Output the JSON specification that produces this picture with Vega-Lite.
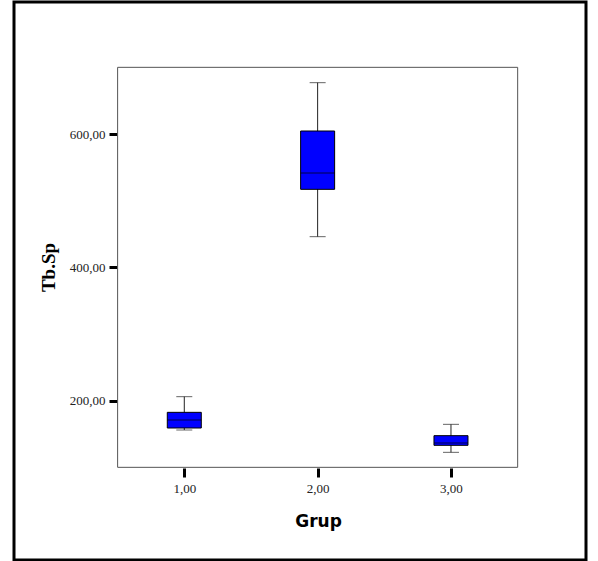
{
  "$schema": "https://vega.github.io/schema/vega-lite/v6.json",
  "width": 572,
  "height": 558,
  "autosize": "none",
  "padding": {"left": 14, "top": 2, "right": 12, "bottom": 1},
  "background": "white",
  "config": {"view": {"stroke": "black", "strokeWidth": 3}},
  "data": {
    "values": [
      {"Grup": 1, "lower": 156, "q1": 159, "median": 171, "q3": 182.5, "upper": 206},
      {"Grup": 2, "lower": 446, "q1": 517, "median": 541.5, "q3": 604.5, "upper": 677},
      {"Grup": 3, "lower": 122.5, "q1": 133, "median": 136.5, "q3": 147.5, "upper": 164.5}
    ]
  },
  "layer": [
    {
      "data": {"values": [{}]},
      "mark": {"type": "rect", "fill": "white", "stroke": "#555555", "strokeWidth": 1},
      "encoding": {
        "x": {"datum": 0.5, "type": "quantitative"},
        "x2": {"datum": 3.5},
        "y": {"datum": 100, "type": "quantitative"},
        "y2": {"datum": 700}
      }
    },
    {
      "mark": {"type": "rule", "color": "#222222", "strokeWidth": 1},
      "encoding": {
        "x": {
          "field": "Grup", "type": "quantitative",
          "scale": {"domain": [-0.277, 4.0125], "nice": false, "zero": false, "padding": 0},
          "axis": {
            "values": [1, 2, 3], "title": "Grup", "offset": -92, "domain": false, "grid": false,
            "tickSize": 9, "tickWidth": 3, "tickColor": "black",
            "labelFont": "Liberation Serif", "labelFontSize": 13, "labelColor": "#222222", "labelPadding": 5,
            "labelExpr": "replace(format(datum.value, '.2f'), '.', ',')",
            "titleFont": "DejaVu Sans", "titleFontSize": 17, "titleFontWeight": "bold", "titleColor": "black", "titlePadding": 18,
            "titleX": 304, "titleAlign": "center"
          }
        },
        "y": {
          "field": "lower", "type": "quantitative",
          "scale": {"domain": [-39, 798], "nice": false, "zero": false, "padding": 0},
          "axis": {
            "values": [200, 400, 600], "title": "Tb.Sp", "offset": -103, "domain": false, "grid": false,
            "tickSize": 8, "tickWidth": 3, "tickColor": "black",
            "labelFont": "Liberation Serif", "labelFontSize": 13, "labelColor": "#222222", "labelPadding": 4,
            "labelExpr": "replace(format(datum.value, '.2f'), '.', ',')",
            "titleFont": "Liberation Serif", "titleFontSize": 19, "titleFontWeight": "bold", "titleColor": "black", "titlePadding": 11,
            "titleY": 265, "titleAlign": "center"
          }
        },
        "y2": {"field": "upper"}
      }
    },
    {
      "mark": {"type": "tick", "orient": "horizontal", "size": 16, "thickness": 1, "color": "#222222"},
      "encoding": {
        "x": {"field": "Grup", "type": "quantitative"},
        "y": {"field": "lower", "type": "quantitative"}
      }
    },
    {
      "mark": {"type": "tick", "orient": "horizontal", "size": 16, "thickness": 1, "color": "#222222"},
      "encoding": {
        "x": {"field": "Grup", "type": "quantitative"},
        "y": {"field": "upper", "type": "quantitative"}
      }
    },
    {
      "mark": {"type": "bar", "size": 34, "fill": "#0000ff", "stroke": "black", "strokeWidth": 1},
      "encoding": {
        "x": {"field": "Grup", "type": "quantitative"},
        "y": {"field": "q1", "type": "quantitative"},
        "y2": {"field": "q3"}
      }
    },
    {
      "mark": {"type": "tick", "orient": "horizontal", "size": 34, "thickness": 1, "color": "black"},
      "encoding": {
        "x": {"field": "Grup", "type": "quantitative"},
        "y": {"field": "median", "type": "quantitative"}
      }
    }
  ]
}
